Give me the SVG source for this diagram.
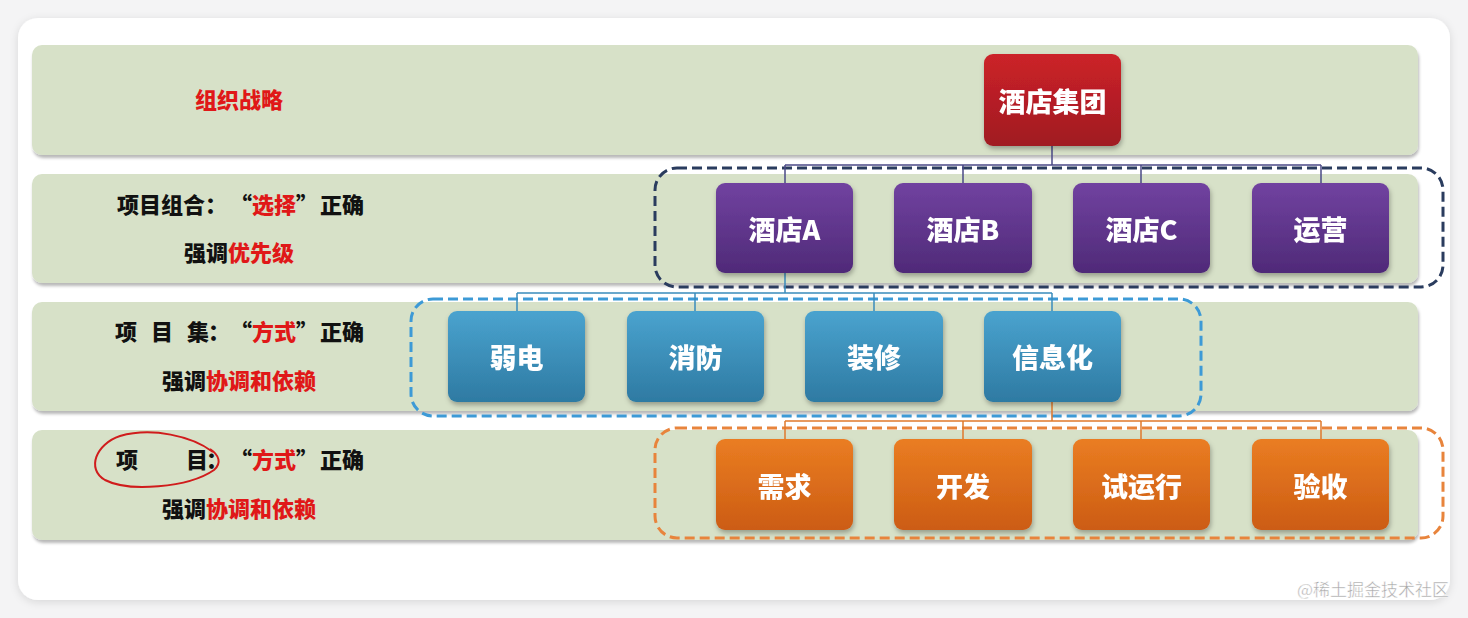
<svg xmlns="http://www.w3.org/2000/svg" width="1468" height="618" viewBox="0 0 1468 618">
<style>
.band{fill:#d7e1c8;filter:url(#bs)}
.node{filter:url(#ns)}
.nt{font-family:"Noto Sans CJK SC","Noto Sans",sans-serif;font-weight:900;font-size:27px;fill:#fff;text-anchor:middle;dominant-baseline:central}
.lt{font-family:"Noto Sans CJK SC","Noto Sans",sans-serif;font-weight:900;font-size:22px;fill:#111}
.r{fill:#e01818}
.grp{fill:none;stroke-width:3;stroke-dasharray:10 5}
.c{fill:none;stroke-width:1.5}
</style>
<defs>
<filter id="cs" x="-5%" y="-5%" width="110%" height="110%"><feDropShadow dx="0" dy="2" stdDeviation="4" flood-color="#000" flood-opacity="0.12"/></filter>
<filter id="bs" x="-2%" y="-10%" width="104%" height="125%"><feDropShadow dx="1" dy="3" stdDeviation="1.5" flood-color="#000" flood-opacity="0.28"/></filter>
<filter id="ns" x="-10%" y="-10%" width="125%" height="130%"><feDropShadow dx="1" dy="3" stdDeviation="2.5" flood-color="#000" flood-opacity="0.3"/></filter>
<linearGradient id="gr" x1="0" y1="0" x2="0" y2="1"><stop offset="0" stop-color="#cc2229"/><stop offset="1" stop-color="#a01a22"/></linearGradient>
<linearGradient id="gp" x1="0" y1="0" x2="0" y2="1"><stop offset="0" stop-color="#7142a0"/><stop offset="1" stop-color="#4f2a78"/></linearGradient>
<linearGradient id="gb" x1="0" y1="0" x2="0" y2="1"><stop offset="0" stop-color="#4aa3cf"/><stop offset="1" stop-color="#2e7aa2"/></linearGradient>
<linearGradient id="go" x1="0" y1="0" x2="0" y2="1"><stop offset="0" stop-color="#ea7d22"/><stop offset="1" stop-color="#cc5c14"/></linearGradient>
</defs>
<rect width="1468" height="618" fill="#f4f4f5"/>
<rect x="18" y="18" width="1432" height="582" rx="20" fill="#fff" filter="url(#cs)"/>

<g id="bands">
<rect class="band" x="32" y="45" width="1386" height="110" rx="10"/>
<rect class="band" x="32" y="174" width="1386" height="109" rx="10"/>
<rect class="band" x="32" y="302" width="1386" height="109" rx="10"/>
<rect class="band" x="32" y="430" width="1386" height="110" rx="10"/>
</g>

<g id="groups">
<rect class="grp" x="655" y="168" width="788" height="119" rx="22" stroke="#2a3c5e"/>
<rect class="grp" x="411" y="299" width="790" height="117" rx="22" stroke="#3d9ad6"/>
<rect class="grp" x="655" y="428" width="788" height="110" rx="22" stroke="#e8843c"/>
</g>

<g id="connectors">
<path class="c" stroke="#4b4a86" d="M1052,146V165M785,165H1321M785,165V183M963,165V183M1141,165V183M1321,165V183"/>
<path class="c" stroke="#3a8cbc" d="M785,273V293M517,293H1052M517,293V311M695,293V311M874,293V311M1052,293V311"/>
<path class="c" stroke="#e07a2c" d="M1052,402V421M785,421H1321M785,421V439M963,421V439M1141,421V439M1321,421V439"/>
</g>

<g id="n-group" class="node"><rect x="984" y="54" width="137" height="92" rx="9" fill="url(#gr)"/><text class="nt" x="1052.5" y="100">酒店集团</text></g>

<g id="n-hotelA" class="node"><rect x="716" y="183" width="137" height="90" rx="9" fill="url(#gp)"/><text class="nt" x="784.5" y="228">酒店A</text></g>
<g id="n-hotelB" class="node"><rect x="894" y="183" width="138" height="90" rx="9" fill="url(#gp)"/><text class="nt" x="963" y="228">酒店B</text></g>
<g id="n-hotelC" class="node"><rect x="1073" y="183" width="137" height="90" rx="9" fill="url(#gp)"/><text class="nt" x="1141.5" y="228">酒店C</text></g>
<g id="n-ops" class="node"><rect x="1252" y="183" width="137" height="90" rx="9" fill="url(#gp)"/><text class="nt" x="1320.5" y="228">运营</text></g>

<g id="n-weak" class="node"><rect x="448" y="311" width="137" height="91" rx="9" fill="url(#gb)"/><text class="nt" x="516.5" y="356">弱电</text></g>
<g id="n-fire" class="node"><rect x="627" y="311" width="137" height="91" rx="9" fill="url(#gb)"/><text class="nt" x="695.5" y="356">消防</text></g>
<g id="n-deco" class="node"><rect x="805" y="311" width="138" height="91" rx="9" fill="url(#gb)"/><text class="nt" x="874" y="356">装修</text></g>
<g id="n-it" class="node"><rect x="984" y="311" width="137" height="91" rx="9" fill="url(#gb)"/><text class="nt" x="1052.5" y="356">信息化</text></g>

<g id="n-req" class="node"><rect x="716" y="439" width="137" height="91" rx="9" fill="url(#go)"/><text class="nt" x="784.5" y="485">需求</text></g>
<g id="n-dev" class="node"><rect x="894" y="439" width="138" height="91" rx="9" fill="url(#go)"/><text class="nt" x="963" y="485">开发</text></g>
<g id="n-trial" class="node"><rect x="1073" y="439" width="137" height="91" rx="9" fill="url(#go)"/><text class="nt" x="1141.5" y="485">试运行</text></g>
<g id="n-accept" class="node"><rect x="1252" y="439" width="137" height="91" rx="9" fill="url(#go)"/><text class="nt" x="1320.5" y="485">验收</text></g>

<g id="labels">
<text class="lt r" x="195" y="108">组织战略</text>
<text class="lt" y="213"><tspan x="117">项目组合：</tspan><tspan x="230">“</tspan><tspan class="r" x="252">选择</tspan><tspan x="296">”</tspan><tspan x="320">正确</tspan></text>
<text class="lt" y="261"><tspan x="184">强调</tspan><tspan class="r" x="228">优先级</tspan></text>
<text class="lt" y="340"><tspan x="115">项</tspan><tspan x="151">目</tspan><tspan x="187">集</tspan><tspan x="208">：</tspan><tspan x="230">“</tspan><tspan class="r" x="252">方式</tspan><tspan x="296">”</tspan><tspan x="320">正确</tspan></text>
<text class="lt" y="389"><tspan x="162">强调</tspan><tspan class="r" x="206">协调和依赖</tspan></text>
<text class="lt" y="468"><tspan x="116">项</tspan><tspan x="186">目</tspan><tspan x="206">：</tspan><tspan x="230">“</tspan><tspan class="r" x="252">方式</tspan><tspan x="296">”</tspan><tspan x="320">正确</tspan></text>
<text class="lt" y="517"><tspan x="162">强调</tspan><tspan class="r" x="206">协调和依赖</tspan></text>
</g>

<path id="circle-mark" d="M213,452 C192,436 152,427 120,436 C96,444 86,469 105,480 C128,492 188,488 214,470 C222,463 219,455 210,449" fill="none" stroke="#d01c1c" stroke-width="2"/>

<text x="1449" y="596" text-anchor="end" font-family="Noto Sans CJK SC,sans-serif" font-size="17" fill="#a8a8a8" stroke="#fff" stroke-width="0.4">@稀土掘金技术社区</text>
</svg>
